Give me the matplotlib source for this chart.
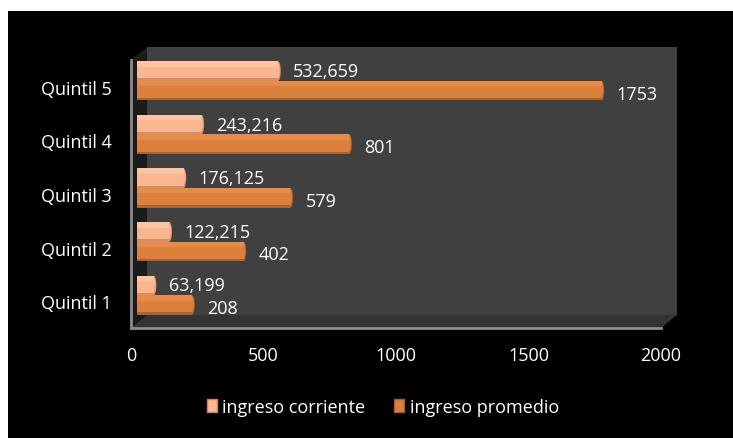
import matplotlib
matplotlib.use('Agg')
import matplotlib.pyplot as plt
import matplotlib.transforms as mtransforms
from matplotlib.patches import Rectangle, Polygon, Ellipse, Patch

plt.rcParams['font.family'] = ['Open Sans', 'DejaVu Sans']

categorias = ['Quintil 1', 'Quintil 2', 'Quintil 3', 'Quintil 4', 'Quintil 5']
ingreso_corriente = [63.199, 122.215, 176.125, 243.216, 532.659]
ingreso_promedio = [208, 402, 579, 801, 1753]
xticks = [0, 500, 1000, 1500, 2000]

W, H = 733, 439
fig = plt.figure(figsize=(W / 100, H / 100), dpi=100, facecolor='white')

# fondo negro del grafico
fig.patches.append(Rectangle((8 / W, 0), 1 - 8 / W, 1 - 12 / H, transform=fig.transFigure,
                             facecolor='black', edgecolor='none', zorder=-10))

x0, x1 = 131 / W, 661 / W
y0, y1 = 1 - 329 / H, 1 - 61 / H
dx, dy = 16 / W, 13 / H

ax = fig.add_axes([x0, y0, x1 - x0, y1 - y0])
ax.set_facecolor('none')

# paredes 3d: fondo, lateral y piso
fig.patches.append(Rectangle((x0 + dx, y0 + dy), x1 - x0, y1 - y0, transform=fig.transFigure,
                             facecolor='#404040', edgecolor='none', zorder=-5))
fig.patches.append(Polygon([(x0, y0), (x0 + dx, y0 + dy), (x0 + dx, y1 + dy), (x0, y1)],
                           transform=fig.transFigure, facecolor='#1b1b1b', edgecolor='none', zorder=-4))
fig.patches.append(Polygon([(x0, y0), (x0 + dx, y0 + dy), (x1 + dx, y0 + dy), (x1, y0)],
                           transform=fig.transFigure, facecolor='#333333', edgecolor='none', zorder=-4))

bar_tr = mtransforms.offset_copy(ax.transData, fig=fig, x=6, y=6, units='dots')
h = 0.365
cap = 20  # ancho del remate redondeado, en unidades de datos


def barra_3d(y, v, base, claro, oscuro):
    ax.add_patch(Ellipse((v, y), cap, h, transform=bar_tr, facecolor=oscuro,
                         edgecolor='none', zorder=2))
    ax.add_patch(Ellipse((v - 2, y + 0.02), cap * 0.8, h * 0.85, transform=bar_tr, facecolor=base,
                         edgecolor='none', zorder=2))
    ax.barh(y, v, height=h, color=base, linewidth=0, transform=bar_tr, zorder=3)
    ax.barh(y + h * 0.36, v, height=h * 0.28, color=claro, linewidth=0, transform=bar_tr, zorder=4)
    ax.barh(y - h * 0.44, v, height=h * 0.12, color=oscuro, linewidth=0, transform=bar_tr, zorder=4)


for i in range(len(categorias)):
    yc = i + h / 2
    yp = i - h / 2
    barra_3d(yc, ingreso_corriente[i], '#f9b690', '#fbc4a5', '#d48e6b')
    barra_3d(yp, ingreso_promedio[i], '#db803d', '#e68c4a', '#ad632c')
    ax.annotate(f'{ingreso_corriente[i]:.3f}'.replace('.', ','), xy=(ingreso_corriente[i], yc),
                xycoords=bar_tr, xytext=(15, 0), textcoords='offset pixels',
                ha='left', va='center', color='white', fontsize=13)
    ax.annotate(f'{ingreso_promedio[i]}', xy=(ingreso_promedio[i], yp),
                xycoords=bar_tr, xytext=(15, -3), textcoords='offset pixels',
                ha='left', va='center', color='white', fontsize=13)

ax.set_xlim(0, 2000)
ax.set_ylim(-0.5, 4.5)
ax.set_xticks(xticks)
ax.set_yticks(range(len(categorias)))
ax.set_yticklabels(categorias)
ax.tick_params(length=0, colors='white', labelsize=13)
ax.tick_params(axis='x', pad=13)
ax.tick_params(axis='y', pad=14)
for s in ['top', 'right']:
    ax.spines[s].set_visible(False)
for s in ['left', 'bottom']:
    ax.spines[s].set_color('#8c8c8c')
    ax.spines[s].set_linewidth(2)

handles = [Patch(facecolor='#f9b690', edgecolor='#c98461'),
           Patch(facecolor='#db803d', edgecolor='#a85f27')]
fig.legend(handles, ['ingreso corriente', 'ingreso promedio'], loc='center',
           bbox_to_anchor=(383 / W, 1 - 408 / H), ncol=2, frameon=False, fontsize=13,
           labelcolor='white', handlelength=0.55, handleheight=0.75, handletextpad=0.3,
           columnspacing=1.6)

fig.savefig('out.png', dpi=100, facecolor='white')
